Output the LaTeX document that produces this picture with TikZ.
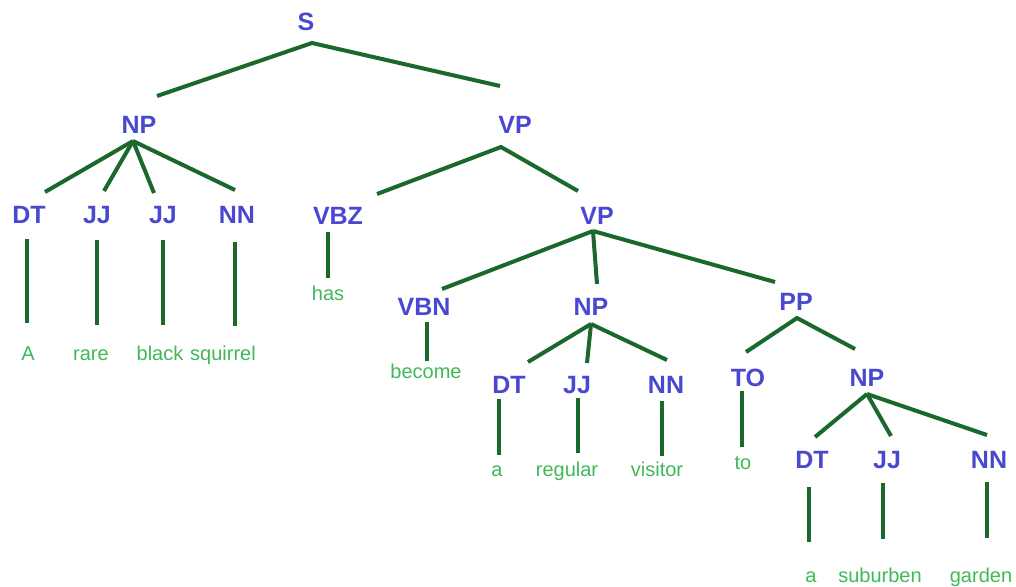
\documentclass[tikz,border=0pt]{standalone}
\usepackage{fontspec}
\setmainfont{Liberation Sans}
\definecolor{lab}{RGB}{72,72,208}
\definecolor{wrd}{RGB}{64,184,88}
\definecolor{edg}{RGB}{26,104,44}
\tikzset{
  tag/.style={font=\fontsize{18.75}{20}\selectfont\bfseries, text=lab, anchor=base, inner sep=0pt},
  word/.style={font=\fontsize{15}{17}\selectfont, text=wrd, anchor=base, inner sep=0pt},
  edge/.style={draw=edg, line width=3pt}
}
\begin{document}
\begin{tikzpicture}[x=0.75pt,y=-0.75pt]
\useasboundingbox (0,0) rectangle (1016,586);
% category labels
\node[tag] (S)    at (306,30)  {S};
\node[tag] (NP1)  at (139,133) {NP};
\node[tag] (DT1)  at (29,223)  {DT};
\node[tag] (JJ1a) at (97,223)  {JJ};
\node[tag] (JJ1b) at (163,223) {JJ};
\node[tag] (NN1)  at (237,223) {NN};
\node[tag] (VP1)  at (515,133) {VP};
\node[tag] (VBZ)  at (338,224) {VBZ};
\node[tag] (VP2)  at (597,224) {VP};
\node[tag] (VBN)  at (424,315) {VBN};
\node[tag] (NP2)  at (591,315) {NP};
\node[tag] (PP)   at (796,310) {PP};
\node[tag] (DT2)  at (509,393) {DT};
\node[tag] (JJ2)  at (577,393) {JJ};
\node[tag] (NN2)  at (666,393) {NN};
\node[tag] (TO)   at (748,386) {TO};
\node[tag] (NP3)  at (867,386) {NP};
\node[tag] (DT3)  at (812,468) {DT};
\node[tag] (JJ3)  at (887,468) {JJ};
\node[tag] (NN3)  at (989,468) {NN};
% words
\node[word] (wA)        at (28,360)  {A};
\node[word] (wrare)     at (91,360)  {rare};
\node[word] (wblack)    at (160,360) {black};
\node[word] (wsquirrel) at (223,360) {squirrel};
\node[word] (whas)      at (328,300) {has};
\node[word] (wbecome)   at (426,378) {become};
\node[word] (wa1)       at (497,476) {a};
\node[word] (wregular)  at (567,476) {regular};
\node[word] (wvisitor)  at (657,476) {visitor};
\node[word] (wto)       at (743,469) {to};
\node[word] (wa2)       at (811,582) {a};
\node[word] (wsuburben) at (880,582) {suburben};
\node[word] (wgarden)   at (981,582) {garden};
% connector end points
\coordinate (S-b)    at (312,43);
\coordinate (NP1-t)  at (157,96);
\coordinate (VP1-t)  at (500,86);
\coordinate (NP1-b)  at (133,141);
\coordinate (DT1-t)  at (45,192);
\coordinate (JJ1a-t) at (104,191);
\coordinate (JJ1b-t) at (154,193);
\coordinate (NN1-t)  at (235,190);
\coordinate (DT1-b)  at (27,239);   \coordinate (wA-t)        at (27,323);
\coordinate (JJ1a-b) at (97,240);   \coordinate (wrare-t)     at (97,325);
\coordinate (JJ1b-b) at (163,240);  \coordinate (wblack-t)    at (163,325);
\coordinate (NN1-b)  at (235,242);  \coordinate (wsquirrel-t) at (235,326);
\coordinate (VP1-b)  at (501,147);
\coordinate (VBZ-t)  at (377,194);
\coordinate (VP2-t)  at (578,191);
\coordinate (VBZ-b)  at (328,232);  \coordinate (whas-t)      at (328,278);
\coordinate (VP2-b)  at (593,231);
\coordinate (VBN-t)  at (442,289);
\coordinate (NP2-t)  at (597,284);
\coordinate (PP-t)   at (775,282);
\coordinate (VBN-b)  at (427,322);  \coordinate (wbecome-t)   at (427,361);
\coordinate (NP2-b)  at (591,324);
\coordinate (DT2-t)  at (528,362);
\coordinate (JJ2-t)  at (587,363);
\coordinate (NN2-t)  at (667,360);
\coordinate (DT2-b)  at (499,399);  \coordinate (wa1-t)       at (499,455);
\coordinate (JJ2-b)  at (578,398);  \coordinate (wregular-t)  at (578,453);
\coordinate (NN2-b)  at (662,401);  \coordinate (wvisitor-t)  at (662,456);
\coordinate (PP-b)   at (797,318);
\coordinate (TO-t)   at (746,352);
\coordinate (NP3-t)  at (855,349);
\coordinate (TO-b)   at (742,391);  \coordinate (wto-t)       at (742,447);
\coordinate (NP3-b)  at (867,394);
\coordinate (DT3-t)  at (815,437);
\coordinate (JJ3-t)  at (891,436);
\coordinate (NN3-t)  at (987,435);
\coordinate (DT3-b)  at (809,487);  \coordinate (wa2-t)       at (809,542);
\coordinate (JJ3-b)  at (883,483);  \coordinate (wsuburben-t) at (883,539);
\coordinate (NN3-b)  at (987,482);  \coordinate (wgarden-t)   at (987,538);
% connectors
\draw[edge] (NP1-t) -- (S-b) -- (VP1-t);
\draw[edge] (NP1-b) -- (DT1-t);
\draw[edge] (NP1-b) -- (JJ1a-t);
\draw[edge] (NP1-b) -- (JJ1b-t);
\draw[edge] (NP1-b) -- (NN1-t);
\draw[edge] (DT1-b) -- (wA-t);
\draw[edge] (JJ1a-b) -- (wrare-t);
\draw[edge] (JJ1b-b) -- (wblack-t);
\draw[edge] (NN1-b) -- (wsquirrel-t);
\draw[edge] (VBZ-t) -- (VP1-b) -- (VP2-t);
\draw[edge] (VBZ-b) -- (whas-t);
\draw[edge] (VP2-b) -- (VBN-t);
\draw[edge] (VP2-b) -- (NP2-t);
\draw[edge] (VP2-b) -- (PP-t);
\draw[edge] (VBN-b) -- (wbecome-t);
\draw[edge] (NP2-b) -- (DT2-t);
\draw[edge] (NP2-b) -- (JJ2-t);
\draw[edge] (NP2-b) -- (NN2-t);
\draw[edge] (DT2-b) -- (wa1-t);
\draw[edge] (JJ2-b) -- (wregular-t);
\draw[edge] (NN2-b) -- (wvisitor-t);
\draw[edge] (TO-t) -- (PP-b) -- (NP3-t);
\draw[edge] (TO-b) -- (wto-t);
\draw[edge] (NP3-b) -- (DT3-t);
\draw[edge] (NP3-b) -- (JJ3-t);
\draw[edge] (NP3-b) -- (NN3-t);
\draw[edge] (DT3-b) -- (wa2-t);
\draw[edge] (JJ3-b) -- (wsuburben-t);
\draw[edge] (NN3-b) -- (wgarden-t);
\end{tikzpicture}
\end{document}
